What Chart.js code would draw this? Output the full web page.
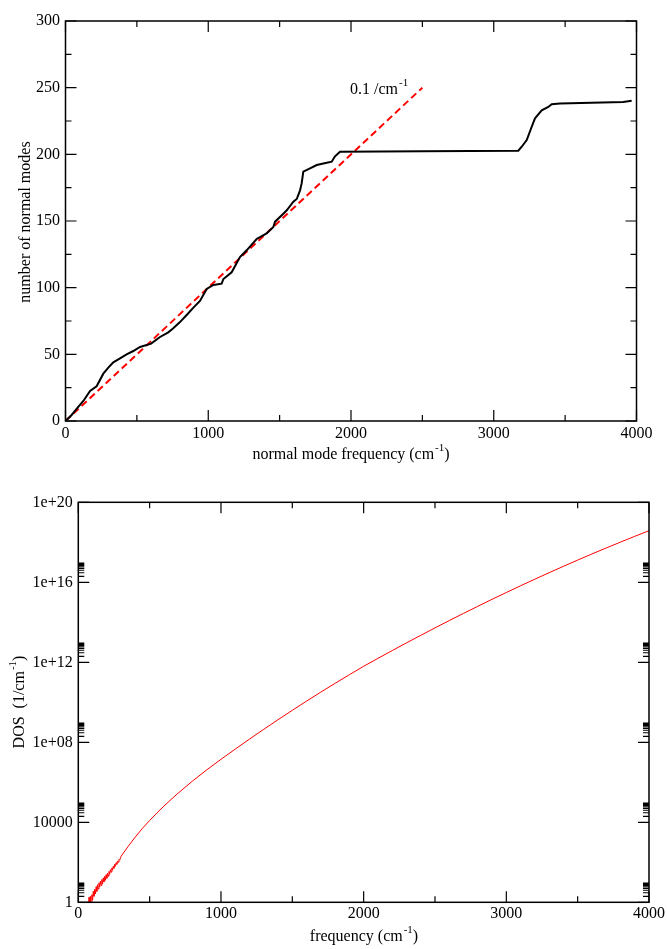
<!DOCTYPE html>
<html>
<head>
<meta charset="utf-8">
<script src="https://cdn.jsdelivr.net/npm/chart.js@4.4.1/dist/chart.umd.min.js"></script>
<style>
  html, body { margin: 0; padding: 0; background: #fff; }
  #wrap { position: relative; width: 667px; height: 949px; }
  #c1 { position: absolute; left: 0; top: 0; }
  #c2 { position: absolute; left: 0; top: 470px; }
</style>
</head>
<body>
<div id="wrap">
  <canvas id="c1" width="667" height="470"></canvas>
  <canvas id="c2" width="667" height="479"></canvas>
</div>
<script>
// Dados do gráfico de cima: número acumulado de modos normais
const modeFreq = [0, 43, 85, 125, 172, 218, 265, 300, 335, 382, 428, 475, 522, 600, 662, 720, 755, 800,
  849, 896, 942, 989, 1036, 1094, 1106, 1164, 1222, 1269, 1339, 1409, 1456, 1468, 1526, 1550, 1596,
  1620, 1643, 1654, 1666, 1713, 1760, 1830, 1865, 1888, 1923, 2500, 3172, 3196, 3231, 3266, 3289,
  3336, 3382, 3406, 3464, 3907, 3966];
const modeCount = [0, 4.5, 10, 15, 22.5, 26, 35.5, 40, 44, 47, 50, 52.5, 55.5, 58, 63, 66.5, 69.5, 74,
  79.5, 85, 90, 99, 102, 103, 106.5, 111.5, 123, 128, 136.5, 140.7, 145.5, 149.5, 155.5, 158, 164.5,
  166.5, 173, 178, 187, 189.5, 192, 193.7, 194.5, 198.5, 202, 202.3, 202.7, 205.7, 210.7, 220.7, 227,
  233, 235.5, 237.5, 238.2, 239.2, 240.2];

// reta de referência 0.1 /cm-1
const refFreq = [0, 2500];
const refCount = [0, 250];

// Dados do gráfico de baixo: densidade de estados
const dosFreq = [70, 75, 80, 85, 90, 95, 100, 105, 110, 115, 120, 125, 130, 135, 140, 145, 150, 155,
  160, 165, 170, 175, 180, 185, 190, 195, 200, 205, 210, 215, 220, 225, 230, 235, 240, 245, 250, 255,
  260, 265, 270, 275, 280, 285, 290, 295, 300, 350, 400, 450, 500, 550, 600, 650, 700, 800, 900, 1000,
  1100, 1200, 1300, 1400, 1500, 1600, 1700, 1800, 1900, 2000, 2100, 2200, 2300, 2400, 2500, 2600,
  2700, 2800, 2900, 3000, 3100, 3200, 3300, 3400, 3500, 3600, 3700, 3800, 3900, 4000];
const dosValue = [0.25, 1.8, 0.32, 2.0, 0.5, 2.4, 1.26, 3.5, 2.0, 4.5, 2.6, 6.0, 3.5, 7.6, 4.6, 9.5, 5.8, 11.5,
  6.9, 13.8, 8.3, 16.6, 10.5, 20, 12.6, 24, 15.8, 29, 20, 35, 25, 43, 32, 52, 40, 63, 50, 79,
  63, 95, 79, 117, 100, 138, 126, 158, 200, 631, 1862, 5010, 12300, 28800, 64600, 138000, 288000, 1.15e6, 4.17e6, 1.41e7,
  4.57e7, 1.45e8, 4.47e8, 1.35e9, 3.98e9, 1.15e10, 3.24e10, 8.91e10, 2.40e11, 6.31e11, 1.57e12, 3.85e12, 9.33e12, 2.23e13, 5.25e13, 1.22e14,
  2.79e14, 6.31e14, 1.41e15, 3.09e15, 6.70e15, 1.43e16, 3.02e16, 6.28e16, 1.29e17, 2.61e17, 5.20e17, 1.02e18, 1.99e18, 3.80e18];

// Ticks
const freqMajor = [0, 1000, 2000, 3000, 4000];
const freqMinor = [500, 1500, 2500, 3500];
const countMajor = [0, 50, 100, 150, 200, 250, 300];
const countMinor = [25, 75, 125, 175, 225, 275];
const dosMajor = [1, 1e4, 1e8, 1e12, 1e16, 1e20];
const dosLabels = ['1', '10000', '1e+08', '1e+12', '1e+16', '1e+20'];
const dosMinor = [];
[1, 1e4, 1e8, 1e12, 1e16].forEach(d => {
  for (let k = 2; k <= 9; k++) dosMinor.push(d * k);
});

const FONT = '"Liberation Serif", "Times New Roman", serif';

function pontos(xs, ys) {
  return xs.map((x, i) => ({ x: x, y: ys[i] }));
}

// Texto com expoente (ex.: cm^-1)
function drawRich(ctx, parts, x, y, size, opts) {
  opts = opts || {};
  const supSize = Math.round(size * 0.68);
  ctx.save();
  ctx.translate(x, y);
  if (opts.rotate) ctx.rotate(-Math.PI / 2);
  ctx.fillStyle = '#000';
  ctx.textBaseline = 'middle';
  ctx.textAlign = 'left';
  let total = 0;
  const widths = parts.map(p => {
    ctx.font = (p[1] ? supSize : size) + 'px ' + FONT;
    const w = ctx.measureText(p[0]).width + (p[1] ? 1 : 0);
    total += w;
    return w;
  });
  let cx = opts.left ? 0 : -total / 2;
  parts.forEach((p, i) => {
    ctx.font = (p[1] ? supSize : size) + 'px ' + FONT;
    ctx.fillText(p[0], cx + (p[1] ? 1 : 0), p[1] ? -size * 0.42 : 0);
    cx += widths[i];
  });
  ctx.restore();
}

// Moldura e ticks para dentro, nos quatro lados
const framePlugin = {
  id: 'frame',
  afterDatasetsDraw(chart, args, opts) {
    const ctx = chart.ctx;
    const a = chart.chartArea;
    const xs = chart.scales.x, ys = chart.scales.y;
    const MAJ = 11, MIN = 6;
    ctx.save();
    ctx.strokeStyle = '#000';
    ctx.lineWidth = 1.2;
    ctx.beginPath();
    const vtick = (v, len) => {
      const px = xs.getPixelForValue(v);
      ctx.moveTo(px, a.bottom); ctx.lineTo(px, a.bottom - len);
      ctx.moveTo(px, a.top); ctx.lineTo(px, a.top + len);
    };
    const htick = (v, len) => {
      const py = ys.getPixelForValue(v);
      ctx.moveTo(a.left, py); ctx.lineTo(a.left + len, py);
      ctx.moveTo(a.right, py); ctx.lineTo(a.right - len, py);
    };
    opts.xMajor.forEach(v => vtick(v, MAJ));
    opts.xMinor.forEach(v => vtick(v, MIN));
    opts.yMajor.forEach(v => htick(v, MAJ));
    opts.yMinor.forEach(v => htick(v, MIN));
    ctx.stroke();
    ctx.lineWidth = 1.5;
    ctx.strokeRect(a.left, a.top, a.right - a.left, a.bottom - a.top);
    ctx.restore();
  },
  afterDraw(chart, args, opts) {
    if (opts.draw) opts.draw(chart);
  }
};

function baseScales(yWidth, xHeight, xPad, yPad) {
  return {
    x: {
      type: 'linear', min: 0, max: 4000,
      afterBuildTicks: s => { s.ticks = freqMajor.map(v => ({ value: v })); },
      afterFit: s => { s.height = xHeight; },
      grid: { display: false, drawTicks: false },
      border: { display: false },
      ticks: { padding: xPad, color: '#000', font: { family: FONT, size: 16 }, maxRotation: 0,
        callback: v => String(v) }
    },
    y: {
      afterFit: s => { s.width = yWidth; },
      grid: { display: false, drawTicks: false },
      border: { display: false },
      ticks: { padding: yPad, color: '#000', font: { family: FONT, size: 16 }, callback: v => String(v) }
    }
  };
}

// Gráfico de cima
const sc1 = baseScales(65.5, 49, 3, 5.5);
sc1.y.min = 0; sc1.y.max = 300;
sc1.y.afterBuildTicks = s => { s.ticks = countMajor.map(v => ({ value: v })); };

new Chart(document.getElementById('c1'), {
  type: 'scatter',
  data: {
    datasets: [{
      data: pontos(modeFreq, modeCount),
      showLine: true, borderColor: '#000', borderWidth: 2, pointRadius: 0
    }, {
      data: pontos(refFreq, refCount),
      showLine: true, borderColor: '#ff0000', borderWidth: 2, borderDash: [7, 4], pointRadius: 0
    }]
  },
  options: {
    responsive: false, animation: false,
    layout: { padding: { left: 0, top: 21, right: 30.5, bottom: 0 } },
    scales: sc1,
    plugins: {
      legend: { display: false }, tooltip: { enabled: false },
      frame: {
        xMajor: freqMajor, xMinor: freqMinor, yMajor: countMajor, yMinor: countMinor,
        draw: chart => {
          const ctx = chart.ctx;
          drawRich(ctx, [['number of normal modes', false]], 26, 222, 16, { rotate: true });
          drawRich(ctx, [['normal mode frequency (cm', false], ['-1', true], [')', false]], 351, 455, 16);
          const ax = chart.scales.x.getPixelForValue(1993);
          const ay = chart.scales.y.getPixelForValue(248.5);
          drawRich(ctx, [['0.1 /cm', false], ['-1', true]], ax, ay, 16, { left: true });
        }
      }
    }
  },
  plugins: [framePlugin]
});

// Gráfico de baixo
const sc2 = baseScales(78.3, 46.7, 2, 5.6);
sc2.y.type = 'logarithmic';
sc2.y.min = 1; sc2.y.max = 1e20;
sc2.y.afterBuildTicks = s => { s.ticks = dosMajor.map(v => ({ value: v })); };
sc2.y.ticks.callback = v => dosLabels[dosMajor.indexOf(v)];

new Chart(document.getElementById('c2'), {
  type: 'scatter',
  data: {
    datasets: [{
      data: pontos(dosFreq, dosValue),
      showLine: true, borderColor: '#ff0000', borderWidth: 1, pointRadius: 0
    }]
  },
  options: {
    responsive: false, animation: false,
    layout: { padding: { left: 0, top: 32.3, right: 17.7, bottom: 0 } },
    scales: sc2,
    plugins: {
      legend: { display: false }, tooltip: { enabled: false },
      frame: {
        xMajor: freqMajor, xMinor: freqMinor, yMajor: dosMajor, yMinor: dosMinor,
        draw: chart => {
          const ctx = chart.ctx;
          drawRich(ctx, [['DOS  (1/cm', false], ['-1', true], [')', false]], 19.5, 232, 16, { rotate: true });
          drawRich(ctx, [['frequency (cm', false], ['-1', true], [')', false]], 364, 467, 16);
        }
      }
    }
  },
  plugins: [framePlugin]
});
</script>
</body>
</html>
